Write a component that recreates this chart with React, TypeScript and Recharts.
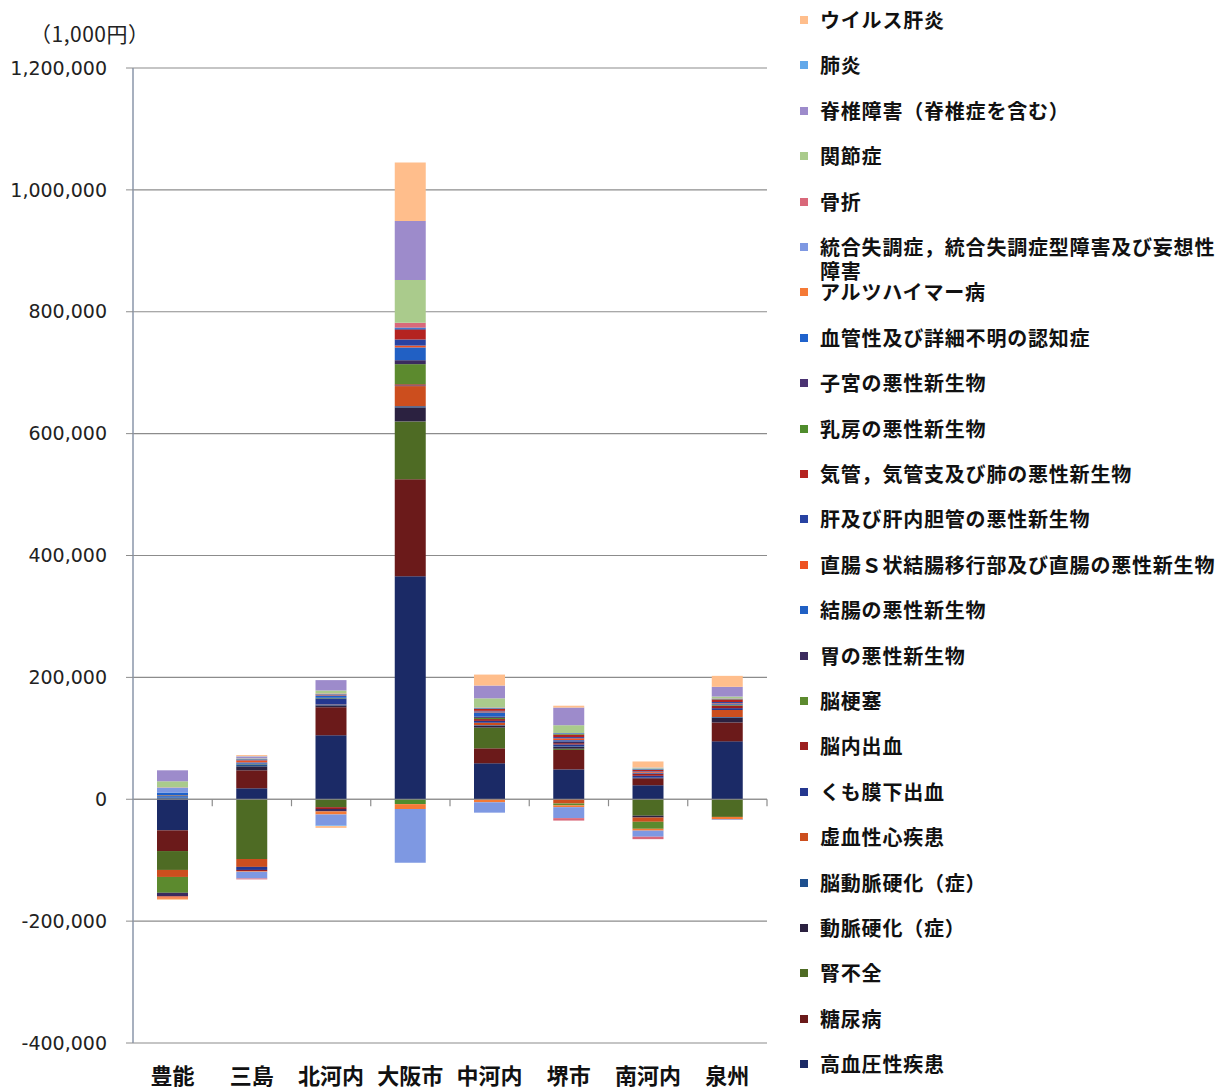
import { BarChart, Bar, XAxis, YAxis, CartesianGrid, ReferenceLine } from 'recharts'

// 二次医療圏
const categories = ['豊能', '三島', '北河内', '大阪市', '中河内', '堺市', '南河内', '泉州']

// 疾病別の差額（単位：1,000円）
const hypertension = [-51000, 18000, 105000, 366000, 59000, 49000, 23000, 95000]
const diabetes = [-34000, 29500, 46000, 159000, 24600, 32000, 11500, 31000]
const renalFailure = [-31000, -98000, -13000, 95000, 34000, 2000, -27000, -29000]
const atherosclerosis = [1000, 6500, 3000, 23000, 3000, 3000, -3000, 8000]
const cerebralAthero = [2000, 3000, 1000, 2000, 1000, 1000, 1000, 1000]
const ischemicHeart = [-11500, -13000, 500, 33000, 4000, -7000, -7000, 11500]
const subarachnoid = [0, -5000, 10000, 1000, 3000, 3000, 3000, 3000]
const intracerebral = [0, -2000, -3000, 2000, 3000, 2000, 3000, 4000]
const infarction = [-26000, 500, 1000, 33000, 2000, -3000, -11500, 1000]
const stomachCancer = [-6000, 1000, -4000, 6500, 2000, 3000, 1000, 1000]
const colonCancer = [2000, 2000, 3000, 21000, 7000, 2000, 1000, 1000]
const rectumCancer = [-2000, 3000, 500, 3000, 1500, 3000, 1500, 1000]
const liverCancer = [500, 500, 500, 10000, 1000, 2000, 1000, 2000]
const lungCancer = [500, 500, 500, 16000, 3000, 4000, 2000, 4000]
const breastCancer = [500, 500, 500, -8000, 500, 1000, 500, 500]
const uterineCancer = [500, 500, 500, 1500, 500, 500, 500, 500]
const vascularDementia = [4000, 500, 500, 2000, 1000, 1000, 1000, 500]
const alzheimers = [-2000, -1000, -5000, -8000, -5000, -3000, -3000, -4000]
const schizophrenia = [8000, -11000, -18000, -88000, -17000, -18000, -10000, -1000]
const fracture = [500, -1500, 1000, 8000, 500, -4000, -4000, 500]
const arthrosis = [10000, 1000, 5000, 70000, 15000, 13000, 1000, 3000]
const spinal = [18000, 3000, 17000, 97000, 21000, 29000, 500, 16000]
const pneumonia = [0, 500, -1000, 0, 0, 0, 500, 0]
const viralHepatitis = [-1500, 2000, -3000, 96000, 18000, 3000, 10000, 18000]

const yTicks = [-400000, -200000, 0, 200000, 400000, 600000, 800000, 1000000, 1200000]

const series = [
  { key: 'hypertension', name: '高血圧性疾患', color: '#1B2A66', values: hypertension },
  { key: 'diabetes', name: '糖尿病', color: '#6B1A1A', values: diabetes },
  { key: 'renalFailure', name: '腎不全', color: '#4E6B24', values: renalFailure },
  { key: 'atherosclerosis', name: '動脈硬化（症）', color: '#2B2140', values: atherosclerosis },
  { key: 'cerebralAthero', name: '脳動脈硬化（症）', color: '#1E4F8E', values: cerebralAthero },
  { key: 'ischemicHeart', name: '虚血性心疾患', color: '#CC4E1E', values: ischemicHeart },
  { key: 'subarachnoid', name: 'くも膜下出血', color: '#24378F', values: subarachnoid },
  { key: 'intracerebral', name: '脳内出血', color: '#9C1F1F', values: intracerebral },
  { key: 'infarction', name: '脳梗塞', color: '#5C8A2E', values: infarction },
  { key: 'stomachCancer', name: '胃の悪性新生物', color: '#3B2B5E', values: stomachCancer },
  { key: 'colonCancer', name: '結腸の悪性新生物', color: '#2160C4', values: colonCancer },
  { key: 'rectumCancer', name: '直腸Ｓ状結腸移行部及び直腸の悪性新生物', color: '#EE5222', values: rectumCancer },
  { key: 'liverCancer', name: '肝及び肝内胆管の悪性新生物', color: '#2742A2', values: liverCancer },
  { key: 'lungCancer', name: '気管，気管支及び肺の悪性新生物', color: '#B42320', values: lungCancer },
  { key: 'breastCancer', name: '乳房の悪性新生物', color: '#4F8C2C', values: breastCancer },
  { key: 'uterineCancer', name: '子宮の悪性新生物', color: '#4A3272', values: uterineCancer },
  { key: 'vascularDementia', name: '血管性及び詳細不明の認知症', color: '#1F62CC', values: vascularDementia },
  { key: 'alzheimers', name: 'アルツハイマー病', color: '#F57A36', values: alzheimers },
  { key: 'schizophrenia', name: '統合失調症，統合失調症型障害及び妄想性障害', color: '#7E98E2', values: schizophrenia },
  { key: 'fracture', name: '骨折', color: '#D9687A', values: fracture },
  { key: 'arthrosis', name: '関節症', color: '#AACB8C', values: arthrosis },
  { key: 'spinal', name: '脊椎障害（脊椎症を含む）', color: '#9D8BCB', values: spinal },
  { key: 'pneumonia', name: '肺炎', color: '#62A8EA', values: pneumonia },
  { key: 'viralHepatitis', name: 'ウイルス肝炎', color: '#FFBE8C', values: viralHepatitis },
]

const data = categories.map((name, i) => {
  const row: Record<string, string | number> = { name }
  series.forEach((s) => {
    row[s.key] = s.values[i]
  })
  return row
})

const jpFont = '"Noto Sans CJK JP", "Noto Sans", sans-serif'
const gridColor = '#8c8c8c'

// zero line with tick marks at category boundaries
const ZeroAxis = (props: any) => {
  const { x1, y1, x2 } = props
  const step = (x2 - x1) / categories.length
  return (
    <g>
      <line x1={x1} y1={y1} x2={x2} y2={y1} stroke={gridColor} strokeWidth={1.2} />
      {categories.map((c, i) => (
        <line key={c} x1={x1 + step * (i + 1)} y1={y1} x2={x1 + step * (i + 1)} y2={y1 + 7} stroke={gridColor} strokeWidth={1.2} />
      ))}
    </g>
  )
}

export default function App() {
  const legendItems = [...series].reverse()
  return (
    <div style={{ position: 'absolute', left: 0, top: 0, width: 1217, height: 1089, background: '#fff', overflow: 'hidden' }}>
      <div style={{ position: 'absolute', left: 0, top: 0 }}>
        <BarChart
          width={780}
          height={1089}
          data={data}
          stackOffset="sign"
          barSize={31}
          margin={{ top: 68, right: 13, bottom: 6, left: 0 }}
        >
          <CartesianGrid vertical={false} stroke={gridColor} strokeWidth={1.2} />
          <XAxis
            dataKey="name"
            axisLine={false}
            tickLine={false}
            height={40}
            tickSize={6}
            tickMargin={19}
            interval={0}
            tick={{ fill: '#111', fontSize: 22, fontWeight: 700, fontFamily: jpFont }}
          />
          <YAxis
            width={133}
            domain={[-400000, 1200000]}
            ticks={yTicks}
            interval={0}
            tickSize={7}
            tickMargin={19}
            axisLine={{ stroke: '#8a96aa', strokeWidth: 1.5 }}
            tickLine={{ stroke: gridColor }}
            tickFormatter={(v: number) => v.toLocaleString('en-US')}
            tick={{ fill: '#222', fontSize: 19, fontFamily: '"DejaVu Sans", sans-serif' }}
          />
          <ReferenceLine y={0} shape={ZeroAxis} />
          {series.map((s) => (
            <Bar key={s.key} dataKey={s.key} name={s.name} stackId="a" fill={s.color} isAnimationActive={false} />
          ))}
        </BarChart>
      </div>

      <div
        style={{
          position: 'absolute',
          left: 30,
          top: 19,
          fontFamily: jpFont,
          fontSize: 21,
          letterSpacing: 0.5,
          lineHeight: '28px',
          color: '#222',
          whiteSpace: 'nowrap',
        }}
      >
        （1,000円）
      </div>

      {legendItems.map((s, i) => {
        const cy = 20 + i * 45.4
        return (
          <div key={s.key}>
            <div style={{ position: 'absolute', left: 800, top: cy - 4, width: 8, height: 8, background: s.color }} />
            <div
              style={{
                position: 'absolute',
                left: 820,
                top: cy - 12,
                width: 398,
                fontFamily: jpFont,
                fontSize: 20,
                fontWeight: 700,
                letterSpacing: 0.8,
                lineHeight: '24px',
                color: '#111',
              }}
            >
              {s.name}
            </div>
          </div>
        )
      })}
    </div>
  )
}
